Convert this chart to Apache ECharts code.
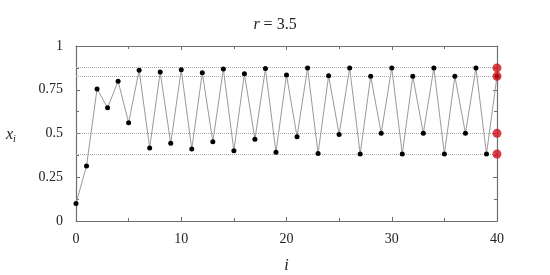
<!DOCTYPE html>
<html><head><meta charset="utf-8">
<script src="https://cdn.jsdelivr.net/npm/echarts@6/dist/echarts.min.js"></script>
<style>html,body{margin:0;background:#fff}#c{width:550px;height:275px}</style>
</head><body><div id="c"></div>
<script>
const iterations = [0,1,2,3,4,5,6,7,8,9,10,11,12,13,14,15,16,17,18,19,20,21,22,23,24,25,26,27,28,29,30,31,32,33,34,35,36,37,38,39,40];
const xValues = [0.100,0.315,0.755,0.647,0.799,0.562,0.862,0.417,0.851,0.444,0.864,0.411,0.847,0.453,0.868,0.402,0.841,0.467,0.871,0.393,0.835,0.482,0.874,0.386,0.830,0.495,0.875,0.383,0.827,0.501,0.875,0.383,0.827,0.501,0.875,0.383,0.827,0.501,0.875,0.383,0.827];
const cycleValues = [0.875,0.827,0.501,0.383];
const cycleX = 40;
const xTicks = [0,10,20,30,40];
const yTicks = [0,0.25,0.5,0.75,1];

const FONT = 'Liberation Serif';
const axisCol = '#6e6e6e';
const chart = echarts.init(document.getElementById('c'), null, {renderer:'canvas'});
const mkX = (pos, labels) => ({
  type:'value', position:pos, min:xTicks[0], max:xTicks[xTicks.length-1], interval:xTicks[1]-xTicks[0],
  axisLine:{show:true,onZero:false,lineStyle:{color:axisCol,width:1.2}},
  axisTick:{show:true,inside:true,length:4,lineStyle:{color:axisCol}},
  minorTick:{show:true,splitNumber:2,length:3,lineStyle:{color:axisCol}},
  axisLabel:{show:labels,fontFamily:FONT,fontSize:14,color:'#222',margin:11},
  splitLine:{show:false},
  name: labels ? 'i' : '', nameLocation:'middle', nameGap:37,
  nameTextStyle:{fontFamily:FONT,fontStyle:'italic',fontSize:16,color:'#222'}
});
const mkY = (pos, labels) => ({
  type:'value', position:pos, min:yTicks[0], max:yTicks[yTicks.length-1], interval:yTicks[1]-yTicks[0],
  axisLine:{show:true,onZero:false,lineStyle:{color:axisCol,width:1.2}},
  axisTick:{show:true,inside:true,length:4,lineStyle:{color:axisCol}},
  minorTick:{show:true,splitNumber:2,length:3,lineStyle:{color:axisCol}},
  axisLabel:{show:labels,fontFamily:FONT,fontSize:14,color:'#222',margin:13},
  splitLine:{show:false}
});
chart.setOption({
  animation:false,
  backgroundColor:'#fff',
  title:{
    text:'{it|r} = 3.5', left:'center', top:12,
    textStyle:{fontFamily:FONT,fontSize:16,color:'#222',fontWeight:'normal',
      rich:{it:{fontFamily:FONT,fontStyle:'italic',fontSize:16,color:'#222'}}}
  },
  grid:{left:76,right:53,top:46,bottom:54,containLabel:false,outerBoundsMode:'none'},
  xAxis:[mkX('bottom',true), mkX('top',false)],
  yAxis:[mkY('left',true), mkY('right',false)],
  graphic:[{
    type:'text', left:6, top:127,
    style:{text:'{x|x}{s|i}', rich:{
      x:{fontFamily:FONT,fontStyle:'italic',fontSize:16,fill:'#222'},
      s:{fontFamily:FONT,fontStyle:'italic',fontSize:10,fill:'#222',verticalAlign:'bottom',padding:[8,0,0,0]}
    }}
  }],
  series:[
    {
      type:'line', xAxisIndex:0, yAxisIndex:0, z:3,
      data: iterations.map((i,k)=>[i,xValues[k]]),
      lineStyle:{color:'#9a9a9a',width:1},
      symbol:'circle', symbolSize:5,
      itemStyle:{color:'#000'},
      markLine:{
        silent:true, symbol:'none', label:{show:false}, z:1,
        lineStyle:{color:'#a8a8a8',type:'dotted',width:1},
        data: cycleValues.map(v=>({yAxis:v}))
      }
    },
    {
      type:'scatter', xAxisIndex:0, yAxisIndex:0, z:4,
      data: cycleValues.map(v=>[cycleX,v]),
      symbolSize:9, itemStyle:{color:'#d0101c'}
    }
  ]
});
</script></body></html>
